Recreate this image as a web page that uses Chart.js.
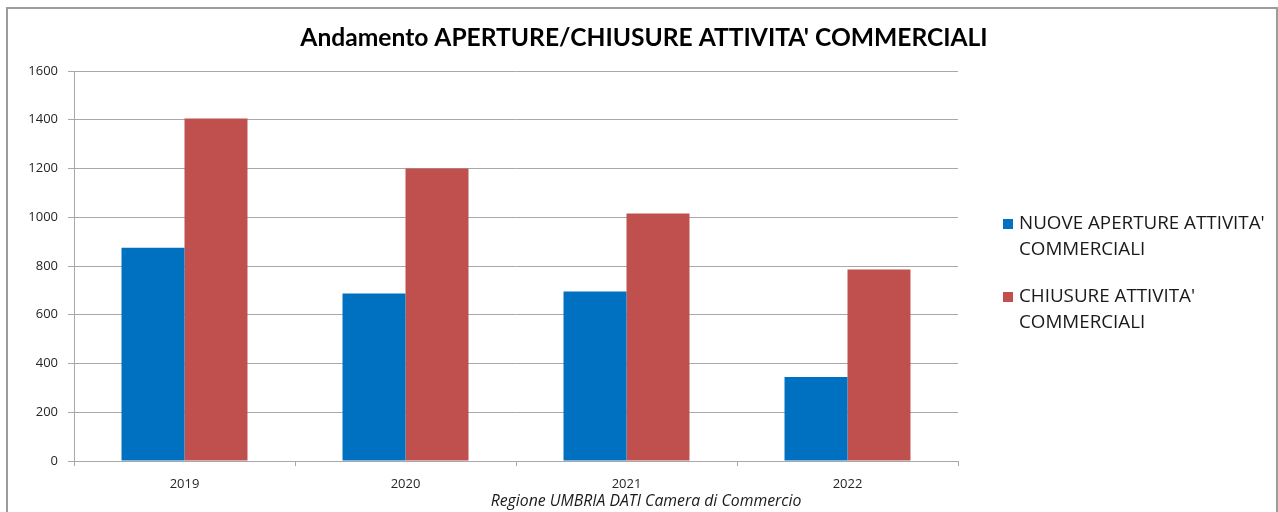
<!DOCTYPE html>
<html>
<head>
<meta charset="utf-8">
<script src="https://cdn.jsdelivr.net/npm/chart.js@4"></script>
<style>
    body { margin: 0; background: #fff; }
    #wrap { position: absolute; left: 0; top: 0; width: 1278px; height: 512px; }
    #frame { position: absolute; left: 6px; top: 7px; width: 1268px; height: 520px; border: 2px solid #9c9c9c; pointer-events: none; }
</style>
</head>
<body>
<div id="wrap"><canvas id="graphCanvas"></canvas></div>
<div id="frame"></div>
<script>
var anni = ['2019', '2020', '2021', '2022'];
var aperture = [875, 687, 695, 345];
var chiusure = [1405, 1200, 1015, 786];
var nomiSerie = [
    ["NUOVE APERTURE ATTIVITA'", 'COMMERCIALI'],
    ["CHIUSURE ATTIVITA'", 'COMMERCIALI']
];
var colori = ['#0070C0', '#C0504D'];
var titolo = "Andamento APERTURE/CHIUSURE ATTIVITA' COMMERCIALI";
var fonte = 'Regione UMBRIA DATI Camera di Commercio';

var font = 'Lato, "Open Sans", sans-serif';
var font2 = '"Open Sans", Lato, sans-serif';
var grigio = '#a8a8a8';

// title, source line and the two-line legend are drawn by hand
// (the built-in ones get centred on the plot, not on the whole frame)
var testiExtra = {
    id: 'testiExtra',
    afterDraw: function (chart) {
        var ctx = chart.ctx;
        ctx.save();
        ctx.textBaseline = 'middle';
        ctx.textAlign = 'center';
        ctx.fillStyle = '#000';
        ctx.font = 'bold 24.6px ' + font;
        ctx.fillText(titolo, 644, 38);

        ctx.fillStyle = '#1a1a1a';
        ctx.font = 'italic 15.8px ' + font2;
        ctx.fillText(fonte, 646, 501);

        ctx.textAlign = 'left';
        ctx.font = '18.8px ' + font2;
        var tops = [219, 292];
        for (var i = 0; i < nomiSerie.length; i++) {
            ctx.fillStyle = colori[i];
            ctx.fillRect(1003, tops[i], 10, 10);
            ctx.fillStyle = '#1a1a1a';
            for (var j = 0; j < nomiSerie[i].length; j++) {
                ctx.fillText(nomiSerie[i][j], 1019, tops[i] + 5 + j * 26);
            }
        }
        ctx.restore();
    }
};

new Chart(document.getElementById('graphCanvas'), {
    type: 'bar',
    data: {
        labels: anni,
        datasets: [
            { label: nomiSerie[0].join(' '), data: aperture, backgroundColor: colori[0] },
            { label: nomiSerie[1].join(' '), data: chiusure, backgroundColor: colori[1] }
        ]
    },
    options: {
        responsive: true,
        maintainAspectRatio: false,
        animation: false,
        layout: { padding: { left: 28, right: 320, top: 71, bottom: 21 } },
        datasets: { bar: { barPercentage: 1, categoryPercentage: 0.57 } },
        plugins: {
            legend: { display: false },
            tooltip: { enabled: false },
            title: { display: false }
        },
        scales: {
            x: {
                grid: { drawOnChartArea: false, drawTicks: true, tickLength: 5, color: grigio, offset: true },
                border: { color: grigio },
                ticks: { color: '#262626', font: { family: font2, size: 13 }, padding: 10 },
                afterFit: function (s) { s.height = 30; }
            },
            y: {
                min: 0,
                max: 1600,
                ticks: {
                    stepSize: 200,
                    color: '#262626',
                    font: { family: font2, size: 13 },
                    padding: 10,
                    callback: function (v) { return String(v); }
                },
                grid: { color: grigio, tickLength: 6 },
                border: { color: grigio },
                afterFit: function (s) { s.width = 46; }
            }
        }
    },
    plugins: [testiExtra]
});
</script>
</body>
</html>
